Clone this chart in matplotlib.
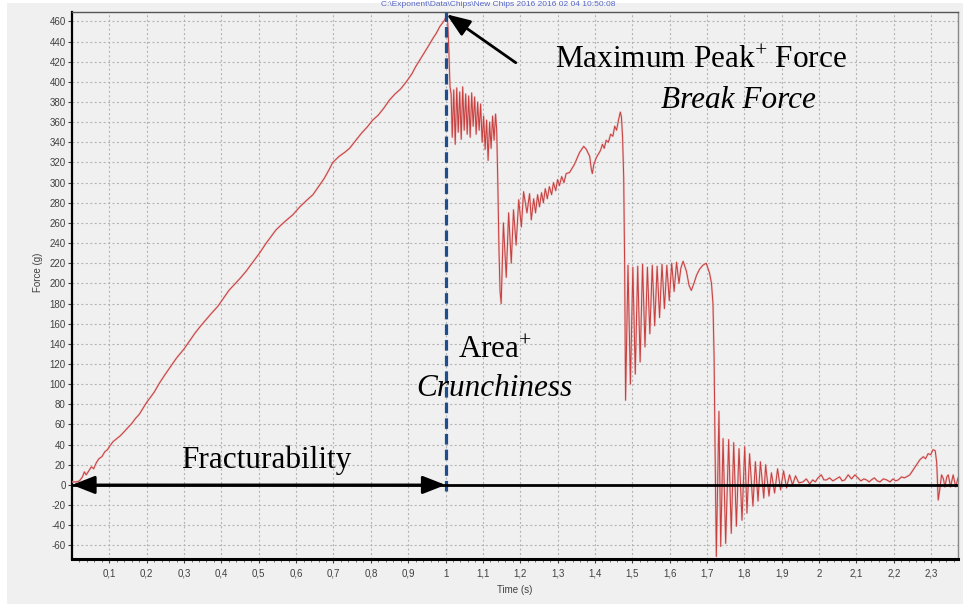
import matplotlib
matplotlib.use("Agg")
import matplotlib.pyplot as plt
from matplotlib.patches import Rectangle

plt.rcParams["mathtext.fontset"] = "custom"
plt.rcParams["mathtext.rm"] = "Liberation Serif"
plt.rcParams["mathtext.it"] = "Liberation Serif:italic"

# ---------------- data ----------------
# phase 1: loading up to the maximum peak
load_t = [0.000, 0.012, 0.020, 0.028, 0.033, 0.038, 0.045, 0.052, 0.058, 0.065, 0.072, 0.080,
          0.088, 0.095, 0.100, 0.110, 0.120, 0.130, 0.140, 0.150, 0.160, 0.170, 0.180, 0.190,
          0.200, 0.210, 0.220, 0.234, 0.250, 0.265, 0.280, 0.300, 0.315, 0.330, 0.345, 0.359,
          0.375, 0.390, 0.403, 0.420, 0.435, 0.450, 0.466, 0.480, 0.502, 0.520, 0.546, 0.560,
          0.575, 0.591, 0.610, 0.630, 0.645, 0.660, 0.675, 0.690, 0.698, 0.715, 0.730, 0.743,
          0.760, 0.775, 0.790, 0.805, 0.820, 0.835, 0.850, 0.865, 0.880, 0.895, 0.910, 0.920,
          0.930, 0.945, 0.955, 0.966, 0.975, 0.985, 0.997, 1.003]
load_f = [3, 3, 4, 8, 13, 10, 14, 18, 16, 22, 26, 28,
          33, 35, 38, 43, 46, 49, 53, 57, 61, 66, 70, 76,
          82, 87, 92, 101, 110, 118, 126, 135, 143, 151, 158, 164,
          171, 177, 184, 193, 199, 205, 212, 219, 230, 240, 253, 258,
          263, 268, 276, 283, 288, 296, 304, 314, 320, 326, 330, 334,
          342, 349, 355, 362, 367, 374, 382, 388, 393, 400, 408, 415,
          421, 430, 436, 443, 448, 455, 461, 466]

# phase 2: first fracture plateau
frac1_t = [1.006, 1.009, 1.012, 1.015, 1.018, 1.022, 1.026, 1.030, 1.034, 1.038, 1.042, 1.046,
           1.050, 1.054, 1.058, 1.062, 1.066, 1.070, 1.074, 1.078, 1.082, 1.086, 1.090, 1.094,
           1.098, 1.102, 1.106, 1.110, 1.114, 1.118, 1.122, 1.126, 1.130, 1.134, 1.137, 1.140,
           1.143, 1.146, 1.149]
frac1_f = [458, 430, 395, 388, 345, 392, 338, 394, 350, 390, 343, 395,
           352, 388, 348, 386, 345, 389, 356, 385, 348, 380, 352, 378,
           340, 366, 333, 362, 322, 360, 334, 366, 342, 368, 352, 300,
           235, 192, 180]

# phase 3: rebuild to the second peak
rise2_t = [1.155, 1.1625, 1.169, 1.176, 1.182, 1.189, 1.196, 1.203, 1.209, 1.218, 1.225, 1.2296,
           1.236, 1.241, 1.2465, 1.2516, 1.257, 1.262, 1.267, 1.2725, 1.278, 1.284, 1.289, 1.295,
           1.300, 1.305, 1.311, 1.317, 1.323, 1.332, 1.345, 1.359, 1.370, 1.377, 1.386, 1.390,
           1.393, 1.397, 1.404, 1.415, 1.420, 1.425, 1.430, 1.436, 1.442, 1.448, 1.453, 1.458,
           1.463, 1.468, 1.471, 1.474, 1.477, 1.4795]
rise2_f = [260, 206, 270, 220, 273, 238, 283, 256, 291, 270, 289, 263,
           284, 270, 288, 276, 290, 280, 294, 284, 296, 288, 300, 292,
           303, 297, 306, 300, 309, 310, 318, 330, 336, 333, 326, 314,
           309, 318, 325, 332, 338, 334, 342, 340, 348, 346, 356, 352,
           362, 370, 365, 345, 305, 220]

# phase 4: second fracture oscillation
frac2_t = [1.482, 1.4885, 1.495, 1.5015, 1.508, 1.5145, 1.521, 1.5275, 1.534, 1.5405, 1.547, 1.5535,
           1.560, 1.5665, 1.573, 1.5795, 1.586, 1.5925, 1.599, 1.6055, 1.612, 1.6185, 1.625, 1.630,
           1.636, 1.645, 1.652, 1.658, 1.665, 1.672, 1.680, 1.689, 1.698, 1.707, 1.712, 1.716,
           1.719, 1.7215]
frac2_f = [84, 218, 100, 216, 110, 217, 122, 219, 137, 216, 150, 218,
           158, 217, 166, 219, 175, 218, 183, 220, 192, 221, 200, 215,
           222, 212, 198, 193, 200, 208, 214, 218, 220, 210, 200, 180,
           127, 40]

# phase 5: ring-down
ring_t = [1.725, 1.732, 1.7367, 1.743, 1.750, 1.758, 1.765, 1.7715, 1.7787, 1.7857, 1.7937, 1.801,
          1.807, 1.814, 1.823, 1.8296, 1.8366, 1.843, 1.852, 1.857, 1.866, 1.8725, 1.881, 1.889,
          1.897, 1.905, 1.913, 1.921, 1.929, 1.937, 1.946]
ring_f = [-71, 73, -61, 46, -58, 45, -48, 42, -41, 36, -35, 38,
          -28, 31, -21, 23, -16, 23, -13, 20, -11, 12, -8, 16,
          -5, 14, -3, 10, 0, 9, 2]

# phase 6: tail
tail_t = [1.957, 1.966, 1.975, 1.983, 1.990, 1.997, 2.006, 2.013, 2.020, 2.028, 2.037, 2.046,
          2.055, 2.062, 2.069, 2.078, 2.087, 2.096, 2.104, 2.112, 2.120, 2.127, 2.134, 2.140,
          2.148, 2.156, 2.163, 2.172, 2.181, 2.190, 2.198, 2.205, 2.212, 2.221, 2.228, 2.234,
          2.243, 2.252, 2.261, 2.270, 2.279, 2.285, 2.292, 2.299, 2.305, 2.311, 2.315, 2.319,
          2.323, 2.328, 2.333, 2.337, 2.342, 2.346, 2.352, 2.359, 2.366, 2.372]
tail_f = [3, 6, 1, 5, 3, 7, 10, 5, 5, 7, 4, 6,
          8, 4, 5, 10, 6, 10, 7, 4, 6, 5, 3, 5,
          7, 4, 3, 6, 5, 3, 6, 4, 5, 8, 7, 8,
          10, 15, 20, 25, 28, 26, 31, 30, 35, 34, 22, -15,
          -5, 10, 6, -2, 8, 10, -2, 10, -2, 7]

x_ticks = [0.1, 0.2, 0.3, 0.4, 0.5, 0.6, 0.7, 0.8, 0.9, 1.0, 1.1, 1.2,
           1.3, 1.4, 1.5, 1.6, 1.7, 1.8, 1.9, 2.0, 2.1, 2.2, 2.3]
x_tick_labels = ["0,1", "0,2", "0,3", "0,4", "0,5", "0,6", "0,7", "0,8", "0,9", "1", "1,1", "1,2",
                 "1,3", "1,4", "1,5", "1,6", "1,7", "1,8", "1,9", "2", "2,1", "2,2", "2,3"]
y_ticks = [-60, -40, -20, 0, 20, 40, 60, 80, 100, 120, 140, 160, 180, 200, 220, 240,
           260, 280, 300, 320, 340, 360, 380, 400, 420, 440, 460]

peak_time = 1.0
peak_force = 467

time_s = load_t + frac1_t + rise2_t + frac2_t + ring_t + tail_t
force_g = load_f + frac1_f + rise2_f + frac2_f + ring_f + tail_f

# ---------------- figure ----------------
W, H = 963, 604
fig = plt.figure(figsize=(W / 100, H / 100), dpi=100)
fig.patch.set_facecolor("white")
fig.patches.append(Rectangle((7 / W, 0), 1, 1 - 3 / H, transform=fig.transFigure,
                             facecolor="#f0f0f0", edgecolor="none", zorder=-10))

ax = fig.add_axes([72 / W, 1 - 559 / H, (958 - 72) / W, (559 - 12.3) / H])
ax.set_facecolor("#f0f0f0")

ax.plot(time_s, force_g, color="#eab4b4", lw=1.6, alpha=0.55, zorder=3)
ax.plot(time_s, force_g, color="#c84040", lw=0.75, zorder=4)

ax.set_xlim(0, 2.372)
ax.set_ylim(-73.5, 469)
ax.set_xticks(x_ticks)
ax.set_xticklabels(x_tick_labels)
ax.set_xticks([i * 0.02 for i in range(1, 119)], minor=True)
ax.set_yticks(y_ticks)
ax.set_yticklabels([str(v) for v in y_ticks])

ax.tick_params(axis="both", which="major", labelsize=7, labelcolor="#404040",
               color="#404040", length=3, width=0.8)
ax.tick_params(axis="x", which="major", pad=4)
ax.tick_params(axis="y", which="major", pad=1.5)
ax.tick_params(axis="x", which="minor", length=2, width=0.6, color="#606060")
for lab in ax.get_xticklabels() + ax.get_yticklabels():
    lab.set_fontfamily("Liberation Sans")

ax.grid(True, which="major", color="#b2b2b2", lw=0.8, linestyle=(0, (1.8, 2.2)))
ax.set_axisbelow(True)

ax.spines["left"].set_linewidth(1.6)
ax.spines["bottom"].set_linewidth(2.2)
ax.spines["left"].set_color("black")
ax.spines["bottom"].set_color("black")
ax.spines["top"].set_linewidth(1.0)
ax.spines["top"].set_color("#555555")
ax.spines["right"].set_linewidth(1.0)
ax.spines["right"].set_color("#888888")

ax.set_ylabel("Force (g)", fontsize=7, color="#404040", fontfamily="Liberation Sans")
ax.yaxis.set_label_coords((43 - 72) / 886, 1 - (272 - 12.3) / 546.7)
ax.set_xlabel("Time (s)", fontsize=7, color="#404040", fontfamily="Liberation Sans")
ax.xaxis.set_label_coords(0.5, -(585 - 559) / 546.7)

fig.text(498 / W, 1 - 5 / H, r"C:\Exponent\Data\Chips\New Chips 2016 2016 02 04 10:50:08",
         fontsize=6, color="#5566c4", ha="center", va="center", fontfamily="Liberation Sans")

# ---------------- annotations ----------------
ax.axvline(peak_time, ymin=0.125, ymax=1.0, color="#1f4e8f", lw=2.3,
           linestyle=(0, (3.3, 1.6)), zorder=5)
ax.axhline(0, color="black", lw=2.0, zorder=6)
ax.annotate("", xy=(0, 0), xytext=(peak_time, 0),
            arrowprops=dict(arrowstyle="<|-|>,head_length=1.4,head_width=0.55",
                            mutation_scale=10, lw=2.0, color="black",
                            shrinkA=0, shrinkB=0), zorder=7)
ax.annotate("", xy=(peak_time + 0.003, peak_force), xytext=(1.188, 419),
            arrowprops=dict(arrowstyle="-|>,head_length=1.3,head_width=0.5",
                            mutation_scale=11, lw=2.0, color="black",
                            shrinkA=0, shrinkB=0), zorder=7, annotation_clip=False)

serif = "Liberation Serif"
fs = 22.5
fig.text(701 / W, 1 - 60 / H, r"Maximum Peak$^{+}$ Force", fontsize=fs, fontfamily=serif,
         ha="center", va="center")
fig.text(738 / W, 1 - 100 / H, "Break Force", fontsize=fs, fontfamily=serif, style="italic",
         ha="center", va="center")
fig.text(495 / W, 1 - 350 / H, r"Area$^{+}$", fontsize=fs, fontfamily=serif,
         ha="center", va="center")
fig.text(494 / W, 1 - 388 / H, "Crunchiness", fontsize=fs, fontfamily=serif, style="italic",
         ha="center", va="center")
fig.text(266 / W, 1 - 460 / H, "Fracturability", fontsize=fs, fontfamily=serif,
         ha="center", va="center")

fig.savefig("out.png", dpi=100)
